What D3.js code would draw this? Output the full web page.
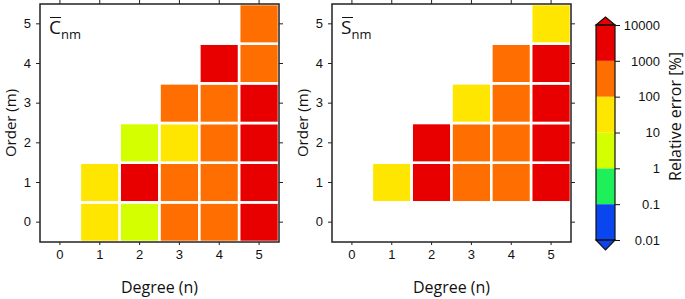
<!DOCTYPE html>
<html>
<head>
<meta charset="utf-8">
<script src="https://cdn.jsdelivr.net/npm/d3@7"></script>
<style>
  body { margin: 0; background: #fff; }
  svg { display: block; }
  text { font-family: "Liberation Sans", Arial, sans-serif; fill: #111; }
  .lab { font-family: "Open Sans", "Noto Sans", sans-serif; }
</style>
</head>
<body>
<div id="chart"></div>
<script>
// relative error [%] per (degree n, order m)
var degrees = [0, 1, 2, 3, 4, 5];
var orders = [0, 1, 2, 3, 4, 5];
var cnmCells = [
  {n: 1, m: 0, v: 40}, {n: 2, m: 0, v: 5}, {n: 3, m: 0, v: 400}, {n: 4, m: 0, v: 500}, {n: 5, m: 0, v: 3000},
  {n: 1, m: 1, v: 50}, {n: 2, m: 1, v: 2000}, {n: 3, m: 1, v: 300}, {n: 4, m: 1, v: 600}, {n: 5, m: 1, v: 4000},
  {n: 2, m: 2, v: 4}, {n: 3, m: 2, v: 60}, {n: 4, m: 2, v: 500}, {n: 5, m: 2, v: 3000},
  {n: 3, m: 3, v: 400}, {n: 4, m: 3, v: 500}, {n: 5, m: 3, v: 2500},
  {n: 4, m: 4, v: 2000}, {n: 5, m: 4, v: 700},
  {n: 5, m: 5, v: 500}
];
var snmCells = [
  {n: 1, m: 1, v: 40}, {n: 2, m: 1, v: 2000}, {n: 3, m: 1, v: 400}, {n: 4, m: 1, v: 500}, {n: 5, m: 1, v: 3000},
  {n: 2, m: 2, v: 2500}, {n: 3, m: 2, v: 300}, {n: 4, m: 2, v: 500}, {n: 5, m: 2, v: 3000},
  {n: 3, m: 3, v: 50}, {n: 4, m: 3, v: 600}, {n: 5, m: 3, v: 2000},
  {n: 4, m: 4, v: 400}, {n: 5, m: 4, v: 3000},
  {n: 5, m: 5, v: 60}
];
var cbTicks = [0.01, 0.1, 1, 10, 100, 1000, 10000];
var cbLabels = ["0.01", "0.1", "1", "10", "100", "1000", "10000"];
var cbColors = ["#0a46f0", "#1ef05a", "#d4ff00", "#ffe600", "#ff6e00", "#e80000"];

var width = 685, height = 299;
var svg = d3.select("#chart").append("svg")
    .attr("width", width)
    .attr("height", height);

var color = d3.scaleThreshold()
    .domain(cbTicks.slice(1, -1))
    .range(cbColors);

function panel(x0, x1, cells, sym, id) {
  var y0 = 4, y1 = 242;
  var x = d3.scaleBand().domain(degrees).range([x0, x1]);
  var y = d3.scaleBand().domain(orders.slice().reverse()).range([y0, y1]);
  var g = svg.append("g");

  g.append("clipPath").attr("id", id)
    .append("rect").attr("x", x0).attr("y", y0).attr("width", x1 - x0).attr("height", y1 - y0);

  g.append("g").attr("clip-path", "url(#" + id + ")")
    .selectAll("rect").data(cells).enter()
    .append("rect")
      .attr("x", function(d) { return x(d.n); })
      .attr("y", function(d) { return y(d.m); })
      .attr("width", x.bandwidth())
      .attr("height", y.bandwidth())
      .attr("fill", function(d) { return color(d.v); })
      .attr("stroke", "#fff")
      .attr("stroke-width", 2.6);

  var fmt = function(d) { return d; };
  var xb = g.append("g").attr("transform", "translate(0," + y1 + ")")
      .call(d3.axisBottom(x).tickSize(3).tickPadding(5).tickFormat(fmt));
  var xt = g.append("g").attr("transform", "translate(0," + y0 + ")")
      .call(d3.axisTop(x).tickSize(4).tickFormat(""));
  var yl = g.append("g").attr("transform", "translate(" + x0 + ",0)")
      .call(d3.axisLeft(y).tickSize(4).tickPadding(5).tickFormat(fmt));
  var yr = g.append("g").attr("transform", "translate(" + x1 + ",0)")
      .call(d3.axisRight(y).tickSize(4).tickFormat(""));
  [xb, xt, yl, yr].forEach(function(a) {
    a.select(".domain").remove();
    a.selectAll("text").style("font-size", "13px").attr("fill", "#111")
      .style("font-family", "Liberation Sans, Arial, sans-serif");
    a.selectAll("line").attr("stroke", "#222");
  });

  g.append("rect")
    .attr("x", x0).attr("y", y0).attr("width", x1 - x0).attr("height", y1 - y0)
    .attr("fill", "none").attr("stroke", "#222").attr("stroke-width", 1.5);

  // panel symbol with overbar
  var t = g.append("text").attr("class", "lab")
      .attr("x", x0 + 9).attr("y", y0 + 30).style("font-size", "19px");
  t.append("tspan").text(sym);
  t.append("tspan").attr("dy", 5).style("font-size", "13px").text("nm");
  g.append("line")
    .attr("x1", x0 + 10).attr("x2", x0 + 21)
    .attr("y1", y0 + 13.5).attr("y2", y0 + 13.5)
    .attr("stroke", "#111").attr("stroke-width", 1);

  g.append("text").attr("class", "lab")
    .attr("x", (x0 + x1) / 2).attr("y", 293)
    .attr("text-anchor", "middle").style("font-size", "16px")
    .text("Degree (n)");
  g.append("text").attr("class", "lab")
    .attr("transform", "translate(" + (x0 - 24) + "," + ((y0 + y1) / 2) + ") rotate(-90)")
    .attr("text-anchor", "middle").style("font-size", "15px")
    .text("Order (m)");
}

panel(40, 279, cnmCells, "C", "clipC");
panel(332, 571, snmCells, "S", "clipS");

// colorbar
var cbX0 = 596, cbX1 = 615;
var cy = d3.scaleLog().domain([0.01, 10000]).range([240, 25]);
var cb = svg.append("g");
cb.selectAll("rect").data(cbColors).enter()
  .append("rect")
    .attr("x", cbX0)
    .attr("y", function(d, i) { return cy(cbTicks[i + 1]); })
    .attr("width", cbX1 - cbX0)
    .attr("height", function(d, i) { return cy(cbTicks[i]) - cy(cbTicks[i + 1]); })
    .attr("fill", function(d) { return d; });
var mid = (cbX0 + cbX1) / 2;
cb.append("path")
  .attr("d", "M" + cbX0 + "," + cy(10000) + "L" + mid + "," + (cy(10000) - 8) + "L" + cbX1 + "," + cy(10000) + "Z")
  .attr("fill", cbColors[5]).attr("stroke", "#111").attr("stroke-width", 1.2);
cb.append("path")
  .attr("d", "M" + cbX0 + "," + cy(0.01) + "L" + mid + "," + (cy(0.01) + 10) + "L" + cbX1 + "," + cy(0.01) + "Z")
  .attr("fill", cbColors[0]).attr("stroke", "#111").attr("stroke-width", 1.2);
cb.append("rect")
  .attr("x", cbX0).attr("y", cy(10000))
  .attr("width", cbX1 - cbX0).attr("height", cy(0.01) - cy(10000))
  .attr("fill", "none").attr("stroke", "#111").attr("stroke-width", 1.2);

var cax = cb.append("g").attr("transform", "translate(" + cbX1 + ",0)")
    .call(d3.axisRight(cy).tickValues(cbTicks).tickSize(5).tickPadding(3)
      .tickFormat(function(d, i) { return cbLabels[i]; }));
cax.select(".domain").remove();
cax.selectAll("line").attr("stroke", "#111");
cax.selectAll("text")
  .attr("text-anchor", "end").attr("x", 45)
  .style("font-size", "13px").attr("fill", "#111")
  .style("font-family", "Liberation Sans, Arial, sans-serif");

svg.append("text").attr("class", "lab")
  .attr("transform", "translate(681," + ((cy(0.01) + cy(10000)) / 2 - 16) + ") rotate(-90)")
  .attr("text-anchor", "middle").style("font-size", "16px")
  .text("Relative error [%]");
</script>
</body>
</html>
